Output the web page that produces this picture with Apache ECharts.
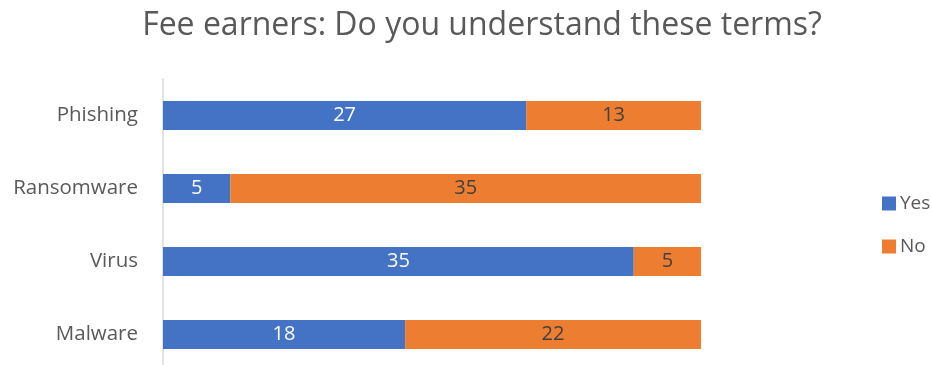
<!DOCTYPE html>
<html>
<head>
<meta charset="utf-8">
<script src="https://cdn.jsdelivr.net/npm/echarts@6/dist/echarts.min.js"></script>
<style>
  html, body { margin: 0; padding: 0; background: #fff; }
  #chart { width: 932px; height: 365px; }
</style>
</head>
<body>
<div id="chart"></div>
<script>
// Survey answers per security term
const categories = ['Phishing', 'Ransomware', 'Virus', 'Malware'];
const yesValues = [27, 5, 35, 18];
const noValues = [13, 35, 5, 22];
const seriesNames = ['Yes', 'No'];

const FONT = '"Open Sans", Lato, sans-serif';

const chart = echarts.init(document.getElementById('chart'));
chart.setOption({
  animation: false,
  backgroundColor: '#ffffff',
  title: {
    text: 'Fee earners: Do you understand these terms?',
    left: 477,
    textAlign: 'center',
    top: 5,
    textStyle: { fontFamily: FONT, fontSize: 32, fontWeight: 'normal', color: '#595959' }
  },
  legend: {
    orient: 'vertical',
    left: 877,
    top: 189,
    itemWidth: 14,
    itemHeight: 14,
    itemGap: 24,
    icon: 'rect',
    textStyle: { fontFamily: FONT, fontSize: 19, color: '#595959', padding: [0, 0, 0, -1] },
    data: seriesNames
  },
  // plot area runs past the lower edge, so the axis line reaches the bottom
  grid: { left: 163, top: 79, width: 538, height: 292, outerBoundsMode: 'none', containLabel: false },
  xAxis: {
    type: 'value',
    min: 0,
    max: 40,
    show: false
  },
  yAxis: {
    type: 'category',
    inverse: true,
    data: categories,
    axisLine: { show: true, lineStyle: { color: '#d9d9d9', width: 1.5 } },
    axisTick: { show: false },
    axisLabel: { fontFamily: FONT, fontSize: 20.5, color: '#595959', margin: 25 }
  },
  series: [
    {
      name: seriesNames[0],
      type: 'bar',
      stack: 'total',
      barWidth: 29,
      data: yesValues,
      itemStyle: { color: '#4472C4' },
      label: { show: true, position: 'inside', fontFamily: FONT, fontSize: 20, color: '#ffffff' }
    },
    {
      name: seriesNames[1],
      type: 'bar',
      stack: 'total',
      barWidth: 29,
      data: noValues,
      itemStyle: { color: '#ED7D31' },
      label: { show: true, position: 'inside', fontFamily: FONT, fontSize: 20, color: '#404040' }
    }
  ]
});
</script>
</body>
</html>
